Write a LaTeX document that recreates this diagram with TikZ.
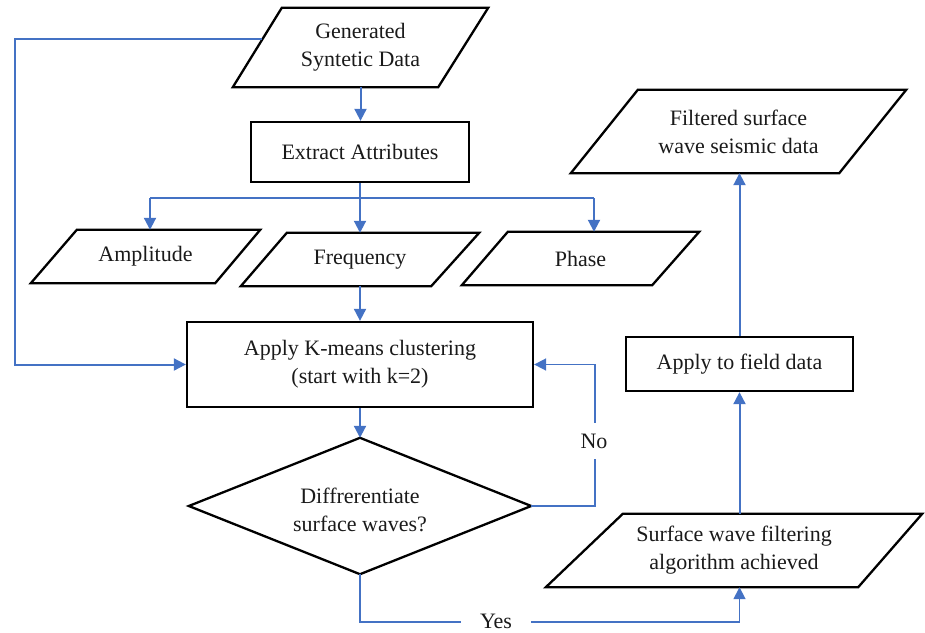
\documentclass[tikz,border=0pt]{standalone}
\usepackage{fontspec}
\setmainfont{Liberation Serif}
\usetikzlibrary{arrows.meta}
\definecolor{flowblue}{HTML}{4472C4}
\definecolor{txtgray}{HTML}{1A1A1A}
\begin{document}
\begin{tikzpicture}[x=1pt,y=-1pt,
  shapeline/.style={draw=black,line width=2.3pt,line join=miter},
  lbl/.style={font=\fontsize{22}{28}\selectfont,text=txtgray,align=center,inner sep=0pt},
  frame/.style={lbl,draw=none,minimum width=#1},
  boxnode/.style={lbl,shapeline,fill=white},
  conn/.style={draw=flowblue,line width=2pt,-{Triangle[length=12pt,width=12pt]}},
  thinline/.style={draw=flowblue,line width=1.5pt},
  thinconn/.style={draw=flowblue,line width=1.7pt,-{Triangle[length=12pt,width=12pt]}},
  gaplabel/.style={lbl,fill=white}
]
\useasboundingbox (0,0) rectangle (925,632);

% ---- nodes ----
\node[frame=255pt,minimum height=79pt] (gen) at (360.5,47.5) {Generated\\Syntetic Data};
\draw[shapeline] ([xshift=49pt]gen.north west) -- (gen.north east) -- ([xshift=-50pt]gen.south east) -- (gen.south west) -- cycle;

\node[boxnode,minimum width=218pt,minimum height=60pt] (extract) at (360,152) {Extract Attributes};

\node[frame=229pt,minimum height=53pt] (amp) at (145.5,256.5) {Amplitude};
\draw[shapeline] ([xshift=46pt]amp.north west) -- (amp.north east) -- ([xshift=-45pt]amp.south east) -- (amp.south west) -- cycle;

\node[frame=238pt,minimum height=53pt] (freq) at (360,259.5) {Frequency};
\draw[shapeline] ([xshift=46pt]freq.north west) -- (freq.north east) -- ([xshift=-48pt]freq.south east) -- (freq.south west) -- cycle;

\node[frame=237pt,minimum height=53pt] (phase) at (580.5,258.5) {Phase};
\draw[shapeline] ([xshift=46pt]phase.north west) -- (phase.north east) -- ([xshift=-47pt]phase.south east) -- (phase.south west) -- cycle;

\node[boxnode,minimum width=346pt,minimum height=85pt] (kmeans) at (360,364.5) {Apply K-means clustering\\(start with k=2)};

\node[frame=342pt,minimum height=136pt] (dia) at (360,506) {};
\draw[shapeline] (dia.north) -- (dia.east) -- (dia.south) -- (dia.west) -- cycle;
\node[lbl] (diatext) at (360,510) {Diffrerentiate\\surface waves?};

\node[frame=376pt,minimum height=73pt] (surf) at (734,550.5) {Surface wave filtering\\algorithm achieved};
\draw[shapeline] ([xshift=77pt]surf.north west) -- (surf.north east) -- ([xshift=-64pt]surf.south east) -- (surf.south west) -- cycle;

\node[boxnode,minimum width=227pt,minimum height=54pt] (field) at (739.5,364) {Apply to field data};

\node[frame=335pt,minimum height=83pt] (filt) at (738.5,131.5) {Filtered surface\\wave seismic data};
\draw[shapeline] ([xshift=67pt]filt.north west) -- (filt.north east) -- ([xshift=-67pt]filt.south east) -- (filt.south west) -- cycle;

% ---- helper coordinates on shape edges ----
\coordinate (genW) at (262,39);
\coordinate (leftcorner) at (15,39);
\coordinate (br) at ([yshift=-15pt]extract.south);
\coordinate (ampIn) at ([xshift=4.5pt]amp.north);
\coordinate (phIn) at ([xshift=13.5pt]phase.north);
\coordinate (noX) at ([xshift=64pt]dia.east);
\coordinate (yesY) at ([yshift=-48pt]dia.south);

% ---- connectors ----
\draw[conn] (gen.south) -- (gen.south |- extract.north);
\draw[thinline] (ampIn |- br) -- (phIn |- br);
\draw[conn] (extract.south) -- (freq.north);
\draw[conn] (ampIn |- br) -- (ampIn);
\draw[conn] (phIn |- br) -- (phIn);
\draw[conn] (freq.south) -- (kmeans.north);
\draw[conn] (genW) -- (leftcorner) |- (kmeans.west);
\draw[conn] (kmeans.south) -- (dia.north);

\draw[thinconn] (dia.east) -- (noX) |- (kmeans.east);
\node[gaplabel,inner xsep=4pt,inner ysep=11pt] (no) at (594,441) {No};

\draw[thinconn] (dia.south) -- (yesY) -| (surf.south -| field.south);
\node[gaplabel,inner xsep=19pt,inner ysep=3pt] (yes) at (496,621) {Yes};

\draw[conn] (surf.north -| field.south) -- (field.south);
\draw[conn] (field.north) -- (field.north |- filt.south);
\end{tikzpicture}
\end{document}
